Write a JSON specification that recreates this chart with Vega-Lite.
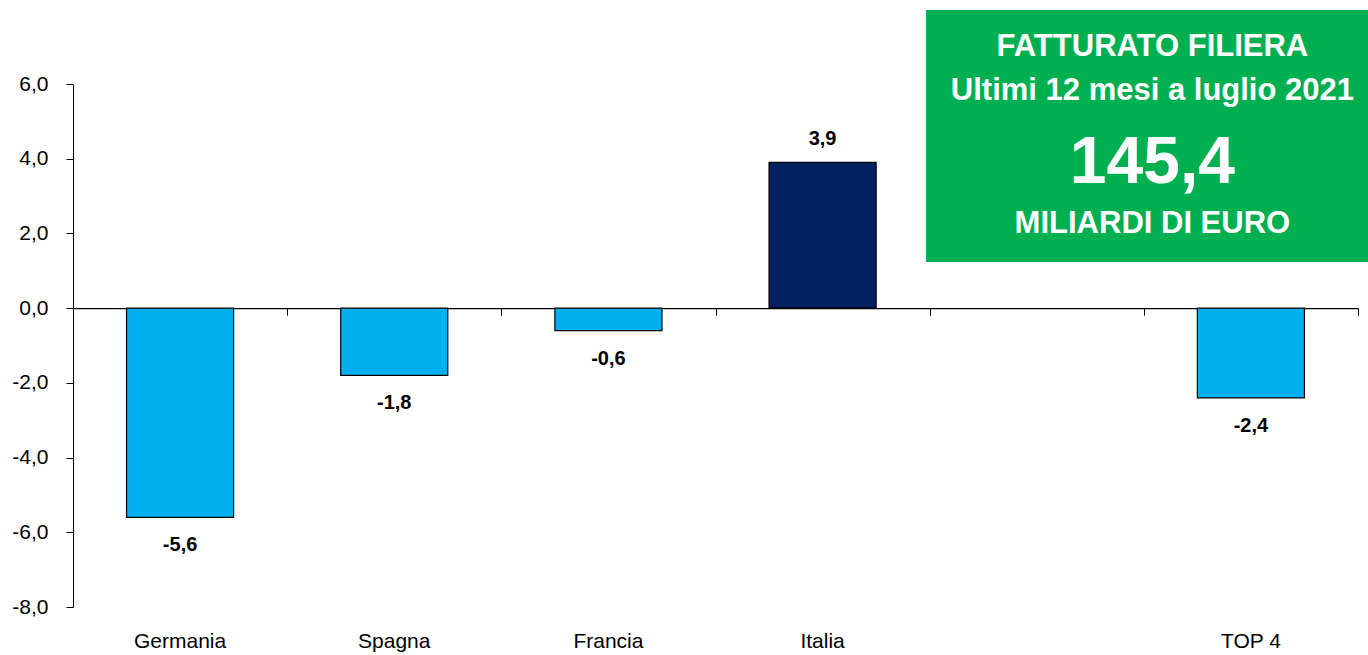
{
  "$schema": "https://vega.github.io/schema/vega-lite/v6.json",
  "width": 1285,
  "height": 523,
  "autosize": "none",
  "padding": {"left": 73, "top": 84, "right": 10, "bottom": 48},
  "background": "white",
  "config": {
    "view": {"stroke": null},
    "locale": {"number": {"decimal": ",", "thousands": ".", "grouping": [3], "currency": ["", " €"], "minus": "-"}},
    "axis": {"labelFont": "Liberation Sans", "labelColor": "black", "grid": false}
  },
  "data": {"values": [
    {"paese": "Germania", "variazione": -5.6},
    {"paese": "Spagna", "variazione": -1.8},
    {"paese": "Francia", "variazione": -0.6},
    {"paese": "Italia", "variazione": 3.9},
    {"paese": "TOP 4", "variazione": -2.4}
  ]},
  "layer": [
    {
      "encoding": {
        "x": {"field": "paese", "type": "nominal",
          "scale": {"domain": ["Germania", "Spagna", "Francia", "Italia", " ", "TOP 4"], "paddingInner": 0.5, "paddingOuter": 0.25},
          "axis": {"orient": "bottom", "title": null, "domain": false, "ticks": false, "labelFontSize": 21, "labelPadding": 23, "labelAngle": 0}},
        "y": {"field": "variazione", "type": "quantitative",
          "scale": {"domain": [-8, 6], "nice": false},
          "axis": {"title": null, "values": [-8, -6, -4, -2, 0, 2, 4, 6], "format": ".1f", "labelFontSize": 21, "tickSize": 7, "tickColor": "black", "domainColor": "black", "labelPadding": 18}}
      },
      "layer": [
        {"mark": {"type": "bar", "stroke": "black", "strokeWidth": 1.2},
         "encoding": {"color": {"field": "paese", "type": "nominal", "legend": null,
           "scale": {"domain": ["Germania", "Spagna", "Francia", "Italia", "TOP 4"], "range": ["#00B0F0", "#00B0F0", "#00B0F0", "#002060", "#00B0F0"]}}}},
        {"transform": [{"filter": "datum.variazione >= 0"}],
         "mark": {"type": "text", "font": "Liberation Sans", "fontWeight": "bold", "fontSize": 20, "baseline": "alphabetic", "dy": -17, "color": "black"},
         "encoding": {"text": {"field": "variazione", "type": "quantitative", "format": ".1f"}}},
        {"transform": [{"filter": "datum.variazione < 0"}],
         "mark": {"type": "text", "font": "Liberation Sans", "fontWeight": "bold", "fontSize": 20, "baseline": "alphabetic", "dy": 34, "color": "black"},
         "encoding": {"text": {"field": "variazione", "type": "quantitative", "format": ".1f"}}}
      ]
    },
    {
      "data": {"values": [{"titolo": "FATTURATO FILIERA", "periodo": "Ultimi 12 mesi a luglio 2021", "valore": "145,4", "unita": "MILIARDI DI EURO"}]},
      "layer": [
        {"mark": {"type": "rect", "color": "#00B050"},
         "encoding": {
           "x": {"datum": 3.983, "type": "quantitative", "scale": {"domain": [0, 6], "nice": false, "zero": false},
             "axis": {"orient": "top", "offset": -224.14, "values": [1, 2, 3, 4, 5, 6], "labels": false, "title": null, "tickSize": -7, "tickColor": "black", "domainColor": "black", "domainWidth": 1.2}},
           "x2": {"datum": 6.05},
           "y": {"datum": 7.98, "type": "quantitative", "scale": {"domain": [-8, 6], "nice": false}},
           "y2": {"datum": 1.235}
         }},
        {"mark": {"type": "text", "font": "Liberation Sans", "fontWeight": "bold", "fontSize": 31, "color": "white", "align": "center", "baseline": "alphabetic"},
         "encoding": {"x": {"datum": 5.04, "type": "quantitative"}, "y": {"datum": 6.75, "type": "quantitative"}, "text": {"field": "titolo"}}},
        {"mark": {"type": "text", "font": "Liberation Sans", "fontWeight": "bold", "fontSize": 31, "color": "white", "align": "center", "baseline": "alphabetic"},
         "encoding": {"x": {"datum": 5.04, "type": "quantitative"}, "y": {"datum": 5.572, "type": "quantitative"}, "text": {"field": "periodo"}}},
        {"mark": {"type": "text", "font": "Liberation Sans", "fontWeight": "bold", "fontSize": 66, "color": "white", "align": "center", "baseline": "alphabetic"},
         "encoding": {"x": {"datum": 5.04, "type": "quantitative"}, "y": {"datum": 3.35, "type": "quantitative"}, "text": {"field": "valore"}}},
        {"mark": {"type": "text", "font": "Liberation Sans", "fontWeight": "bold", "fontSize": 31, "color": "white", "align": "center", "baseline": "alphabetic"},
         "encoding": {"x": {"datum": 5.04, "type": "quantitative"}, "y": {"datum": 2.011, "type": "quantitative"}, "text": {"field": "unita"}}}
      ]
    }
  ],
  "resolve": {"scale": {"x": "independent"}}
}
